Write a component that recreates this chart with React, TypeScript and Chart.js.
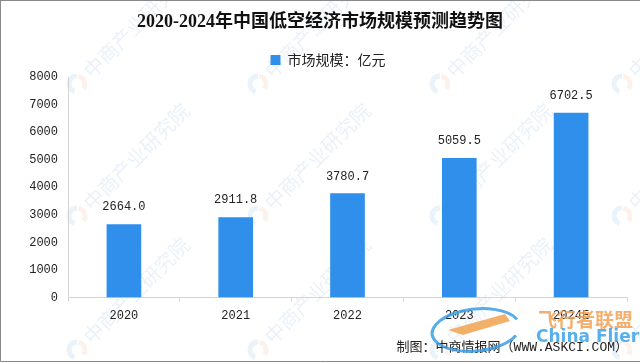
import React, { useEffect, useRef } from "react";
import { Chart, registerables } from "chart.js";

Chart.register(...registerables);

const categories = ["2020", "2021", "2022", "2023", "2024E"];
const marketSize = [2664.0, 2911.8, 3780.7, 5059.5, 6702.5];
const seriesLabel = "市场规模：亿元";
const titleText = "2020-2024年中国低空经济市场规模预测趋势图";
const sourceText = "制图：中商情报网（WWW.ASKCI.COM）";
const watermarkText = "中商产业研究院";
const yTicks = [0, 1000, 2000, 3000, 4000, 5000, 6000, 7000, 8000];

const MONO = "'Liberation Mono', 'Noto Sans CJK SC', monospace";
const CJK = "'Noto Sans CJK SC', sans-serif";

const decorPlugin = {
  id: "decor",
  beforeDraw(chart: any) {
    const ctx = chart.ctx;
    const w = chart.width;
    const h = chart.height;
    ctx.save();
    ctx.fillStyle = "#ffffff";
    ctx.fillRect(0, 0, w, h);
    // watermarks
    const xs = [77, 258, 440, 622];
    const ys = [84, 216, 350];
    ys.forEach((y) => {
      xs.forEach((x) => {
        ctx.save();
        ctx.translate(x, y);
        ctx.globalAlpha = 0.11;
        ctx.lineWidth = 5;
        ctx.strokeStyle = "#3d8fd6";
        ctx.beginPath();
        ctx.arc(0, 0, 8, Math.PI * 0.6, Math.PI * 1.5);
        ctx.stroke();
        ctx.strokeStyle = "#e8864a";
        ctx.beginPath();
        ctx.arc(0, 0, 8, Math.PI * 1.55, Math.PI * 0.2);
        ctx.stroke();
        ctx.rotate(-Math.PI / 4);
        ctx.fillStyle = "#3d7fc0";
        ctx.font = "20px " + CJK;
        ctx.textBaseline = "middle";
        ctx.fillText(watermarkText, 14, 0);
        ctx.restore();
      });
    });
    ctx.restore();
  },
  afterDraw(chart: any) {
    const ctx = chart.ctx;
    const w = chart.width;
    const h = chart.height;
    ctx.save();
    // title
    ctx.fillStyle = "#111111";
    ctx.font = "bold 18px 'Liberation Serif', 'Noto Sans CJK SC', serif";
    ctx.textAlign = "center";
    ctx.textBaseline = "middle";
    ctx.fillText(titleText, w / 2, 22);
    // data labels
    const meta = chart.getDatasetMeta(0);
    ctx.font = "12px " + MONO;
    ctx.fillStyle = "#222222";
    ctx.textBaseline = "middle";
    meta.data.forEach((bar: any, i: number) => {
      ctx.fillText(marketSize[i].toFixed(1), bar.x, bar.y - 17);
    });
    // source
    ctx.font = "13px " + MONO;
    ctx.textAlign = "right";
    ctx.fillStyle = "#222222";
    ctx.fillText(sourceText, 628, 348);
    // China Flier mark
    ctx.save();
    ctx.globalAlpha = 0.85;
    ctx.strokeStyle = "#3a9ee6";
    ctx.lineWidth = 3;
    ctx.beginPath();
    ctx.ellipse(476, 330, 44, 21, -0.1, Math.PI * 0.15, Math.PI * 1.9);
    ctx.stroke();
    ctx.fillStyle = "#f0a24e";
    ctx.beginPath();
    ctx.moveTo(448, 330);
    ctx.lineTo(505, 314);
    ctx.lineTo(510, 321);
    ctx.lineTo(463, 335);
    ctx.closePath();
    ctx.fill();
    ctx.font = "bold 19px " + CJK;
    ctx.textAlign = "left";
    ctx.fillStyle = "#f2a055";
    ctx.fillText("飞行者联盟", 538, 320);
    ctx.font = "bold 17px 'DejaVu Sans', sans-serif";
    ctx.fillStyle = "#3aa2e8";
    ctx.fillText("China Flier", 536, 338);
    ctx.restore();
    // frame
    ctx.strokeStyle = "#8a8a8a";
    ctx.lineWidth = 1;
    ctx.beginPath();
    ctx.moveTo(0.5, 0);
    ctx.lineTo(0.5, h - 1.5);
    ctx.lineTo(w, h - 1.5);
    ctx.moveTo(0, 0.5);
    ctx.lineTo(w, 0.5);
    ctx.stroke();
    ctx.restore();
  },
};

export default function App() {
  const ref = useRef<HTMLCanvasElement | null>(null);

  useEffect(() => {
    document.body.style.margin = "0";
    if (!ref.current) return;
    const chart = new Chart(ref.current, {
      type: "bar",
      data: {
        labels: categories,
        datasets: [
          {
            label: seriesLabel,
            data: marketSize,
            backgroundColor: "#2f8fea",
            borderWidth: 0,
            barPercentage: 0.31,
            categoryPercentage: 1,
          },
        ],
      },
      options: {
        animation: false,
        responsive: false,
        devicePixelRatio: 1,
        layout: { padding: { top: 42, left: 29, right: 13, bottom: 33 } },
        plugins: {
          title: { display: false },
          tooltip: { enabled: false },
          legend: {
            display: true,
            position: "top",
            labels: {
              boxWidth: 10,
              boxHeight: 10,
              padding: 11,
              color: "#222222",
              font: { size: 14, family: CJK },
            },
          },
        },
        scales: {
          x: {
            grid: {
              display: true,
              drawOnChartArea: false,
              drawTicks: true,
              tickLength: 4,
              color: "#d4d4d4",
              offset: true,
            },
            border: { display: true, color: "#d4d4d4" },
            ticks: {
              color: "#222222",
              padding: 7,
              font: { size: 12, family: MONO },
            },
          },
          y: {
            min: 0,
            max: 8000,
            afterBuildTicks(scale: any) {
              scale.ticks = yTicks.map((v) => ({ value: v }));
            },
            afterFit(scale: any) {
              scale.width = 39;
            },
            grid: { display: false, drawTicks: false },
            border: { display: true, color: "#d4d4d4" },
            ticks: {
              color: "#222222",
              padding: 10,
              font: { size: 12, family: MONO },
              callback: (v: any) => String(v),
            },
          },
        },
      },
      plugins: [decorPlugin],
    });
    return () => chart.destroy();
  }, []);

  return (
    <div style={{ width: 640, height: 363 }}>
      <canvas ref={ref} width={640} height={363} style={{ display: "block" }} />
    </div>
  );
}
